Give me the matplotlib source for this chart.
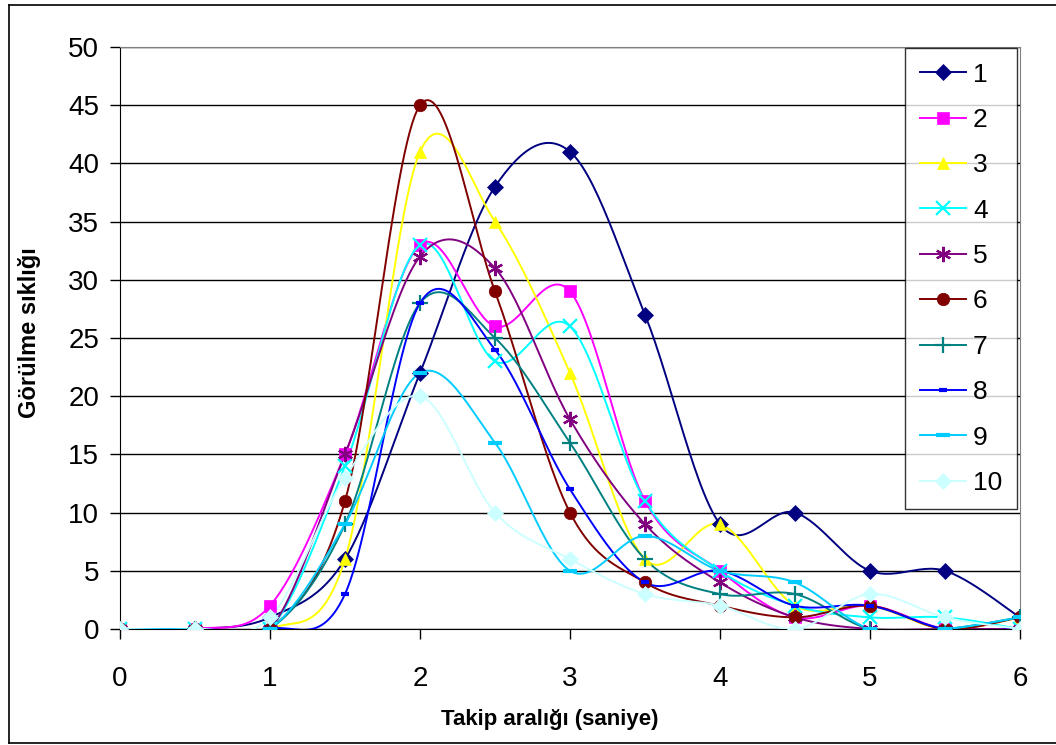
import numpy as np
import matplotlib
matplotlib.use("Agg")
from matplotlib import pyplot as plt
from matplotlib.lines import Line2D

plt.rcParams['font.family'] = ['Liberation Sans', 'DejaVu Sans']

x = [0, 0.5, 1, 1.5, 2, 2.5, 3, 3.5, 4, 4.5, 5, 5.5, 6]

s1 = [0, 0, 1, 6, 22, 38, 41, 27, 9, 10, 5, 5, 1]
s2 = [0, 0, 2, 15, 33, 26, 29, 11, 5, 1, 2, 0, 0]
s3 = [0, 0, 0, 6, 41, 35, 22, 6, 9, 2, 2, 0, 1]
s4 = [0, 0, 0, 14, 33, 23, 26, 11, 5, 2, 1, 1, 0]
s5 = [0, 0, 0, 15, 32, 31, 18, 9, 4, 1, 0, 0, 0]
s6 = [0, 0, 0, 11, 45, 29, 10, 4, 2, 1, 2, 0, 1]
s7 = [0, 0, 0, 9, 28, 25, 16, 6, 3, 3, 0, 0, 1]
s8 = [0, 0, 0, 3, 28, 24, 12, 4, 5, 2, 2, 0, 0]
s9 = [0, 0, 0, 9, 22, 16, 5, 8, 5, 4, 0, 0, 1]
s10 = [0, 0, 1, 13, 20, 10, 6, 3, 2, 0, 3, 1, 0]

labels = ['1', '2', '3', '4', '5', '6', '7', '8', '9', '10']
colors = ['#000080', '#FF00FF', '#FFFF00', '#00FFFF', '#800080',
          '#800000', '#008080', '#0000FF', '#00CCFF', '#CCFFFF']
markers = ['D', 's', '^', 'x', (6, 2, 0), 'o', '+', '_', '_', 'D']
msizes = [8, 8, 9, 10, 11, 9, 11, 6, 10, 8]
series = [s1, s2, s3, s4, s5, s6, s7, s8, s9, s10]


def smooth(xs, ys, n=30):
    # Excel-like smoothed line: cubic bezier through points
    px = np.array(xs, float)
    py = np.array(ys, float)
    ox, oy = [], []
    m = len(px)
    for i in range(m - 1):
        i0 = max(i - 1, 0)
        i3 = min(i + 2, m - 1)
        c1x = px[i] + (px[i + 1] - px[i0]) / 6
        c1y = py[i] + (py[i + 1] - py[i0]) / 6
        c2x = px[i + 1] - (px[i3] - px[i]) / 6
        c2y = py[i + 1] - (py[i3] - py[i]) / 6
        t = np.linspace(0, 1, n)
        bx = (1-t)**3*px[i] + 3*(1-t)**2*t*c1x + 3*(1-t)*t**2*c2x + t**3*px[i+1]
        by = (1-t)**3*py[i] + 3*(1-t)**2*t*c1y + 3*(1-t)*t**2*c2y + t**3*py[i+1]
        ox.extend(bx)
        oy.extend(by)
    return ox, oy


fig = plt.figure(figsize=(10.56, 7.45), dpi=100)
ax = fig.add_axes([120/1056, 1-629/745, 900/1056, 582/745])

for ys, lab, c, mk, ms in zip(series, labels, colors, markers, msizes):
    mew = 1.6 if mk in ('x', '+', (6, 2, 0)) else 3 if mk == '_' else 0.5
    sx, sy = smooth(x, ys)
    ax.plot(sx, sy, color=c, lw=1.4, zorder=3)
    ax.plot(x, ys, linestyle='none', marker=mk, color=c, markersize=ms,
            markeredgewidth=mew, zorder=4)
    ax.plot([], [], color=c, lw=1.4, marker=mk, markersize=ms,
            markeredgewidth=mew, label=lab)

ax.set_xlim(0, 6)
ax.set_ylim(0, 50)
ax.set_xticks(range(0, 7))
ax.set_yticks(range(0, 51, 5))
ax.yaxis.grid(True, color='black', lw=1)
ax.set_axisbelow(True)
ax.tick_params(axis='both', direction='out', length=7, width=1, labelsize=20)
ax.tick_params(axis='y', pad=8)
ax.tick_params(axis='x', pad=20)
for sp in ['top', 'right']:
    ax.spines[sp].set_color('#808080')
for sp in ['left', 'bottom']:
    ax.spines[sp].set_color('black')

ax.set_xlabel('Takip aralığı (saniye)', fontsize=16, fontweight='bold', va='center')
ax.xaxis.set_label_coords(0.478, -0.156)
ax.set_ylabel('Görülme sıklığı', fontsize=17, fontweight='bold', va='center')
ax.yaxis.set_label_coords(-0.101, 0.51)

leg = ax.legend(loc='upper left', bbox_to_anchor=(905/1056, 1-48/745),
                bbox_transform=fig.transFigure, fontsize=19,
                frameon=True, fancybox=False, edgecolor='black', handlelength=1.75,
                labelspacing=0.81, borderaxespad=0, handletextpad=0.28, borderpad=0.55)
leg.get_frame().set_linewidth(1)

# outer chart border (right edge lies outside the image)
for xs_, ys_ in [([9, 9], [5, 743]), ([9, 1060], [5, 5]), ([9, 1060], [743, 743])]:
    fig.lines.append(Line2D([v/1056 for v in xs_], [1 - v/745 for v in ys_],
                            transform=fig.transFigure, color='black', lw=1.2))

plt.savefig('out.png', dpi=100)
